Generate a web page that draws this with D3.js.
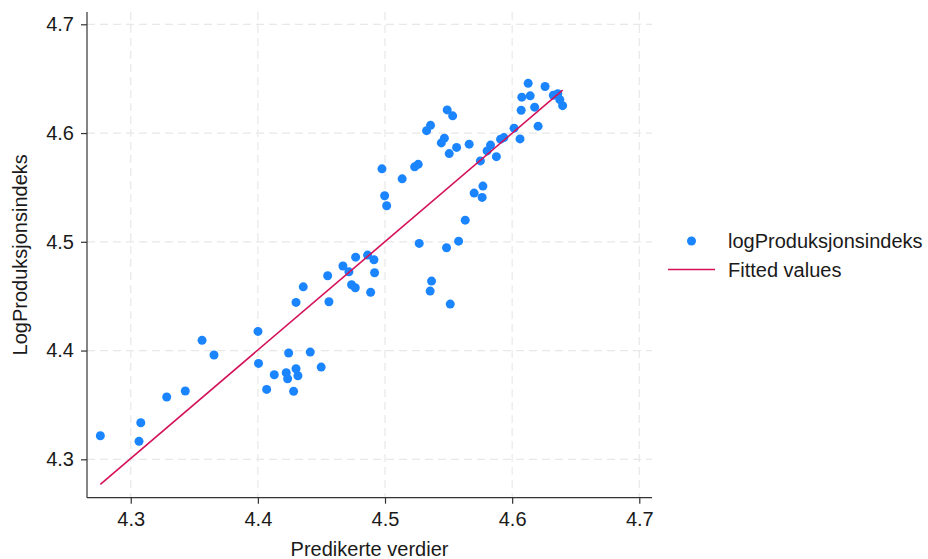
<!DOCTYPE html>
<meta charset="utf-8">
<head>
<script src="https://cdnjs.cloudflare.com/ajax/libs/d3/7.8.5/d3.min.js"></script>
<style>
body { margin: 0; background: #fff; }
#chart { width: 928px; height: 559px; }
text { font-family: "Liberation Sans", Arial, sans-serif; fill: #1a1a1a; }
</style>
</head>
<body>
<div id="chart"></div>
<script>

// predicted values (x) and logProduksjonsindeks (y)
var predikert = [4.2761, 4.3079, 4.3065, 4.3283, 4.3429, 4.3561, 4.3655, 4.4001, 4.4005, 4.4242,
  4.4412, 4.4498, 4.4129, 4.4223, 4.4234, 4.4300, 4.4315, 4.4069, 4.4281, 4.4300,
  4.4357, 4.4549, 4.4559, 4.4669, 4.4716, 4.4769, 4.4737, 4.4766, 4.4863, 4.4913,
  4.4918, 4.4887, 4.4997, 4.5013, 4.5269, 4.5484, 4.5579, 4.5631, 4.5701, 4.5764,
  4.5770, 4.5366, 4.5355, 4.5513, 4.4976, 4.5135, 4.5233, 4.5261, 4.5327, 4.5358,
  4.5489, 4.5532, 4.5443, 4.5467, 4.5505, 4.5563, 4.5662, 4.5750, 4.5803, 4.5830,
  4.5876, 4.5909, 4.5935, 4.6015, 4.6062, 4.6071, 4.6076, 4.6142, 4.6126, 4.6177,
  4.6204, 4.6259, 4.6324, 4.6359, 4.6375, 4.6397];
var logProd = [4.3217, 4.3336, 4.3165, 4.3573, 4.3628, 4.4094, 4.3959, 4.4176, 4.3882, 4.3977,
  4.3986, 4.3848, 4.3778, 4.3796, 4.3741, 4.3833, 4.3768, 4.3643, 4.3625, 4.4443,
  4.4586, 4.4688, 4.4449, 4.4777, 4.4724, 4.4859, 4.4605, 4.4577, 4.4878, 4.4835,
  4.4715, 4.4535, 4.5423, 4.5331, 4.4985, 4.4945, 4.5006, 4.5199, 4.5448, 4.5408,
  4.5512, 4.4639, 4.4547, 4.4427, 4.5671, 4.5579, 4.5689, 4.5712, 4.6022, 4.6071,
  4.6213, 4.6158, 4.5909, 4.5953, 4.5811, 4.5868, 4.5898, 4.5744, 4.5836, 4.5889,
  4.5783, 4.5944, 4.5958, 4.6045, 4.5946, 4.6210, 4.6330, 4.6342, 4.6457, 4.6238,
  4.6063, 4.6428, 4.6348, 4.6362, 4.6307, 4.6252];

// fitted values line end points
var fittedX = [4.2761, 4.6397];
var fittedY = [4.2770, 4.6394];

var xTicks = [4.3, 4.4, 4.5, 4.6, 4.7];
var yTicks = [4.3, 4.4, 4.5, 4.6, 4.7];
var legendLabels = ['logProduksjonsindeks', 'Fitted values'];

var width = 928, height = 559;
var plotLeft = 87, plotRight = 652, plotTop = 12, plotBottom = 497.7;
var blue = '#1a85ff', red = '#d41159';
var fontSize = '20px';

var svg = d3.select('#chart').append('svg')
  .attr('width', width)
  .attr('height', height);

var x = d3.scaleLinear().domain([4.2656, 4.7100]).range([plotLeft, plotRight]);
var y = d3.scaleLinear().domain([4.2647, 4.7113]).range([plotBottom, plotTop]);

// dashed grid
svg.append('g').selectAll('line').data(yTicks).enter().append('line')
  .attr('x1', plotLeft).attr('x2', plotRight)
  .attr('y1', function(d){ return y(d); }).attr('y2', function(d){ return y(d); })
  .style('stroke', '#e8e8e8').style('stroke-width', 1.2).style('stroke-dasharray', '8,5');
svg.append('g').selectAll('line').data(xTicks).enter().append('line')
  .attr('y1', plotTop).attr('y2', plotBottom)
  .attr('x1', function(d){ return x(d); }).attr('x2', function(d){ return x(d); })
  .style('stroke', '#e8e8e8').style('stroke-width', 1.2).style('stroke-dasharray', '8,5');

// axes
var xAxis = svg.append('g')
  .attr('transform', 'translate(0,' + plotBottom + ')')
  .call(d3.axisBottom(x).tickValues(xTicks).tickSize(6).tickPadding(8).tickFormat(d3.format('.1f')));
var yAxis = svg.append('g')
  .attr('transform', 'translate(' + plotLeft + ',0)')
  .call(d3.axisLeft(y).tickValues(yTicks).tickSize(6).tickPadding(7).tickFormat(d3.format('.1f')));

[xAxis, yAxis].forEach(function(a){
  a.select('.domain').remove();
  a.selectAll('.tick line').style('stroke', '#333').style('stroke-width', 1.2);
  a.selectAll('.tick text').style('font-size', fontSize).style('fill', '#1a1a1a')
   .style('font-family', '"Liberation Sans", Arial, sans-serif');
});
svg.append('line').attr('x1', plotLeft).attr('x2', plotLeft).attr('y1', plotTop).attr('y2', plotBottom)
  .style('stroke', '#333').style('stroke-width', 1.2);
svg.append('line').attr('x1', plotLeft).attr('x2', plotRight).attr('y1', plotBottom).attr('y2', plotBottom)
  .style('stroke', '#333').style('stroke-width', 1.2);

// axis titles
svg.append('text')
  .attr('x', (plotLeft + plotRight) / 2).attr('y', 556)
  .attr('text-anchor', 'middle').style('font-size', fontSize)
  .text('Predikerte verdier');
svg.append('text')
  .attr('transform', 'translate(27,' + ((plotTop + plotBottom) / 2) + ') rotate(-90)')
  .attr('text-anchor', 'middle').style('font-size', fontSize)
  .text('LogProduksjonsindeks');

// points
var pts = d3.range(predikert.length).map(function(i){
  return { x: predikert[i], y: logProd[i] };
});
svg.append('g').selectAll('circle').data(pts).enter().append('circle')
  .attr('cx', function(d){ return x(d.x); })
  .attr('cy', function(d){ return y(d.y); })
  .attr('r', 4.5)
  .style('fill', blue);

// fitted line
var line = d3.line().x(function(d){ return x(d[0]); }).y(function(d){ return y(d[1]); });
svg.append('path')
  .datum(d3.zip(fittedX, fittedY))
  .attr('d', line)
  .style('fill', 'none').style('stroke', red).style('stroke-width', 1.6);

// legend
var lg = svg.append('g');
lg.append('circle').attr('cx', 691.5).attr('cy', 241).attr('r', 4.5).style('fill', blue);
lg.append('line').attr('x1', 668).attr('x2', 715).attr('y1', 269.5).attr('y2', 269.5)
  .style('stroke', red).style('stroke-width', 1.6);
lg.selectAll('text').data(legendLabels).enter().append('text')
  .attr('x', 728)
  .attr('y', function(d, i){ return 248 + i * 28.5; })
  .style('font-size', fontSize)
  .text(function(d){ return d; });

</script>
</body>
